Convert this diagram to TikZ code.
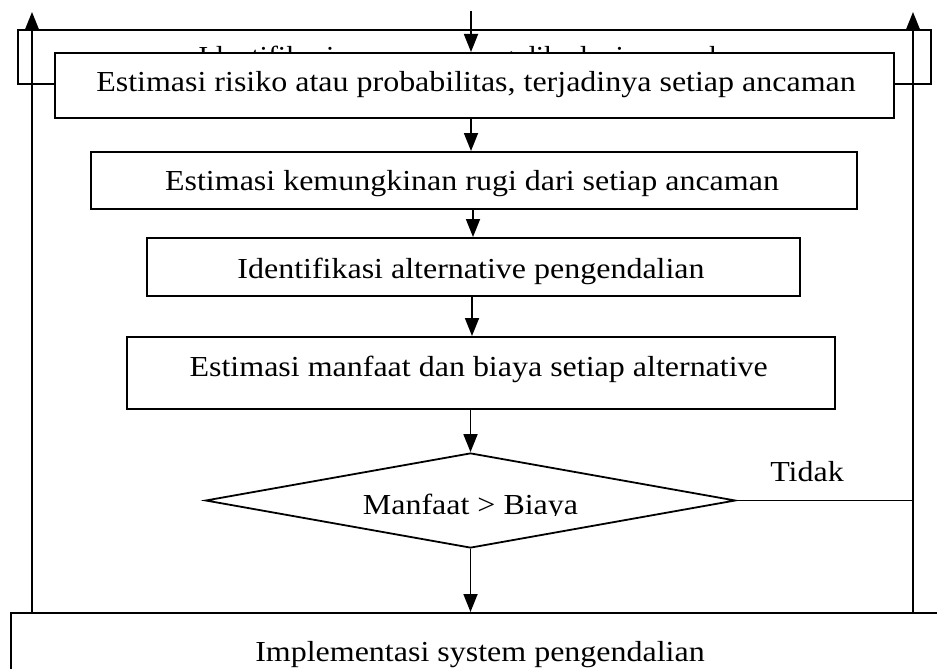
\documentclass[tikz,border=0pt]{standalone}
\usepackage{fontspec}
\setmainfont{Liberation Serif}[FakeStretch=1.103]
\newfontfamily\idfont{Liberation Serif}[FakeStretch=1.03]
\usetikzlibrary{arrows.meta,shapes.geometric,calc}
\begin{document}
\begin{tikzpicture}[x=1pt,y=-1pt,
  box/.style={draw,fill=white,line width=1.8pt,rectangle,inner sep=0pt,anchor=north west},
  txt/.style={anchor=base,inner sep=0pt,font=\fontsize{29}{34}\selectfont},
  arr/.style={line width=1.8pt,-{Triangle[length=18pt,width=14pt]}},
  ln/.style={line width=1.3pt}]
\useasboundingbox (0,0) rectangle (937,669);
\clip (0,0) rectangle (937,669);
\fill[white] (0,0) rectangle (937,669);

\node[box,minimum width=913pt,minimum height=54pt] (ident) at (17,29) {};
\node[txt,font=\idfont\fontsize{29}{34}\selectfont] (identT) at (482,66.5) {Identifikasi ancaman yang dihadapi perusahaan};

\node[box,minimum width=839pt,minimum height=65pt] (risk) at (54,52) {};
\node[txt] (riskT) at (476,91.7) {Estimasi risiko atau probabilitas, terjadinya setiap ancaman};

\node[box,minimum width=766pt,minimum height=57pt] (loss) at (90,151) {};
\node[txt] (lossT) at (472,190.7) {Estimasi kemungkinan rugi dari setiap ancaman};

\node[box,minimum width=653pt,minimum height=58pt] (alt) at (146,237) {};
\node[txt] (altT) at (471,278) {Identifikasi alternative pengendalian};

\node[box,minimum width=708pt,minimum height=72pt] (cost) at (126,336) {};
\node[txt] (costT) at (478.7,376.7) {Estimasi manfaat dan biaya setiap alternative};

\node[draw,fill=white,diamond,line width=1.8pt,minimum width=530pt,minimum height=95pt,inner sep=0pt,aspect=5.58] (dec) at (470.5,500.5) {};
\begin{scope}
  \clip (300,470) rectangle (650,515.5);
  \node[txt] (decT) at (470.5,514) {Manfaat > Biaya};
\end{scope}

\node[txt] (tidak) at (807,481.7) {Tidak};

\node[box,minimum width=945pt,minimum height=100pt] (impl) at (10,612) {};
\node[txt] (implT) at (480,661) {Implementasi system pengendalian};

\coordinate (top) at (471,11);
\coordinate (c2) at (473,0);
\coordinate (c3) at (472,0);
\coordinate (lt) at (32,12);
\coordinate (rt) at (913,12);

\draw[arr] (top) -- (top |- risk.north);
\draw[arr] (risk.south -| top) -- (loss.north -| top);
\draw[arr] (loss.south -| c2) -- (alt.north -| c2);
\draw[arr] (alt.south -| c3) -- (cost.north -| c3);
\draw[arr] (cost.south -| dec.north) -- (dec.north);
\draw[arr] (dec.south) -- (impl.north -| dec.south);
\draw[ln] (dec.east) -- (dec.east -| rt);
\draw[arr] (impl.north -| lt) -- (lt);
\draw[arr] (impl.north -| rt) -- (rt);
\end{tikzpicture}
\end{document}
